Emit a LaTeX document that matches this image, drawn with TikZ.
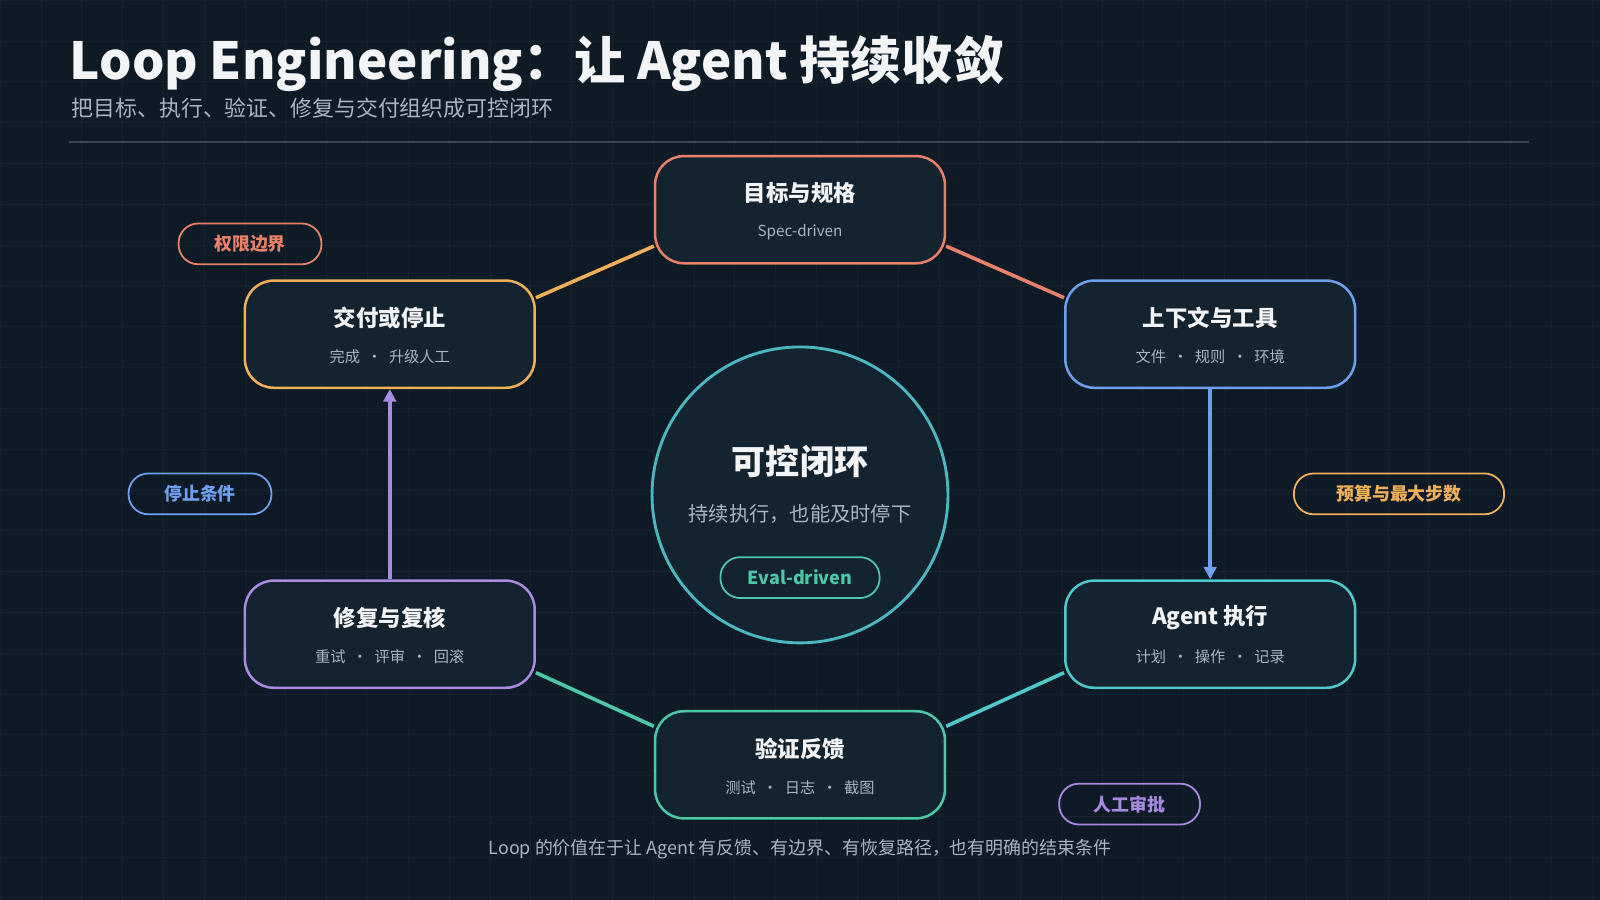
\documentclass[tikz,border=0pt]{standalone}
\usepackage{fontspec}
\setmainfont{Noto Sans CJK SC}
\usetikzlibrary{calc,arrows.meta}
\definecolor{bg}{HTML}{0E1A26}
\definecolor{boxfill}{HTML}{13232F}
\definecolor{cRed}{HTML}{E8806A}
\definecolor{cOrg}{HTML}{F0B05A}
\definecolor{cBlue}{HTML}{6FA0F0}
\definecolor{cPur}{HTML}{A88AE0}
\definecolor{cTeal}{HTML}{4EC8C8}
\definecolor{cGrn}{HTML}{4CC8A8}
\definecolor{cCirc}{HTML}{4BB8C0}
\definecolor{txt}{HTML}{F2F4F6}
\definecolor{sub}{HTML}{A9B4BF}
\begin{document}
\begin{tikzpicture}[x=0.02cm,y=-0.02cm,
  box/.style={draw=#1,line width=1.4pt,fill=boxfill,rounded corners=16pt,minimum width=284*0.02cm,minimum height=105*0.02cm},
  btitle/.style={text=txt,font=\fontsize{12.5}{14}\selectfont\bfseries},
  bsub/.style={text=sub,font=\fontsize{8.5}{10}\selectfont},
  pill/.style={draw=#1,text=#1,line width=1pt,rounded corners=11pt,minimum height=40*0.02cm,font=\fontsize{10}{12}\selectfont\bfseries,inner xsep=0pt},
  conn/.style={draw=#1,line width=2pt}]
\useasboundingbox (0,0) rectangle (1568,882);
\fill[bg] (0,0) rectangle (1568,882);
\foreach \i in {0,40,...,1560} \draw[white!3!bg,line width=0.3pt] (\i,0) -- (\i,882);
\foreach \i in {0,40,...,880} \draw[white!3!bg,line width=0.3pt] (0,\i) -- (1568,\i);
\node[anchor=base west,text=txt,font=\fontsize{28.5}{31}\selectfont\bfseries,inner sep=0] (title) at (68,78) {Loop Engineering：让 Agent 持续收敛};
\node[anchor=base west,text=sub,font=\fontsize{12.2}{14}\selectfont,inner sep=0] (subt) at (70,114) {把目标、执行、验证、修复与交付组织成可控闭环};
\coordinate (l1) at (68,139); \coordinate (l2) at (1498,139);
\draw[white!20!bg,line width=0.8pt] (l1) -- (l2);
% boxes
\node[box=cRed] (goal) at (784,205.5) {};
\node[box=cOrg] (jf) at (382,327.5) {};
\node[box=cBlue] (ctx) at (1186,327.5) {};
\node[box=cPur] (fix) at (382,621.5) {};
\node[box=cTeal] (ag) at (1186,621.5) {};
\node[box=cGrn] (ver) at (784,749.5) {};
\foreach \n/\t/\s in {goal/目标与规格/Spec-driven, jf/交付或停止/完成 \ · \ 升级人工, ctx/上下文与工具/文件 \ · \ 规则 \ · \ 环境, fix/修复与复核/重试 \ · \ 评审 \ · \ 回滚, ag/Agent 执行/计划 \ · \ 操作 \ · \ 记录, ver/验证反馈/测试 \ · \ 日志 \ · \ 截图}{
  \node[btitle] (\n t) at ($(\n)+(0,-16)$) {\t};
  \node[bsub] (\n s) at ($(\n)+(0,22)$) {\s};
}
% circle
\node[circle,draw=cCirc,line width=1.6pt,fill=boxfill,minimum size=290*0.02cm] (core) at (784,485) {};
\node[text=txt,font=\fontsize{19}{22}\selectfont\bfseries] (coret) at (784,452) {可控闭环};
\node[text=sub,font=\fontsize{11.3}{13}\selectfont] (cores) at (784,504) {持续执行，也能及时停下};
\node[pill=cGrn,minimum width=156*0.02cm] (eval) at (784,566) {Eval-driven};
% pills
\node[pill=cRed,minimum width=140*0.02cm] (p1) at (245,239) {权限边界};
\node[pill=cBlue,minimum width=140*0.02cm] (p2) at (196,484) {停止条件};
\node[pill=cOrg,minimum width=206*0.02cm] (p3) at (1371,484) {预算与最大步数};
\node[pill=cPur,minimum width=138*0.02cm] (p4) at (1107,788) {人工审批};
% connectors
\draw[conn=cOrg] ($(jf.north east)+(0,18)$) -- ($(goal.south west)+(0,-18)$);
\draw[conn=cRed] ($(goal.south east)+(0,-18)$) -- ($(ctx.north west)+(0,18)$);
\draw[conn=cBlue,-{Triangle[length=7pt,width=7pt]}] (ctx.south) -- (ag.north);
\draw[conn=cTeal] ($(ag.south west)+(0,-16)$) -- ($(ver.north east)+(0,16)$);
\draw[conn=cGrn] ($(ver.north west)+(0,16)$) -- ($(fix.south east)+(0,-16)$);
\draw[conn=cPur,-{Triangle[length=7pt,width=7pt]}] (fix.north) -- (jf.south);
\node[text=sub,font=\fontsize{10}{12}\selectfont] (foot) at (784,832) {Loop 的价值在于让 Agent 有反馈、有边界、有恢复路径，也有明确的结束条件};
\end{tikzpicture}
\end{document}
